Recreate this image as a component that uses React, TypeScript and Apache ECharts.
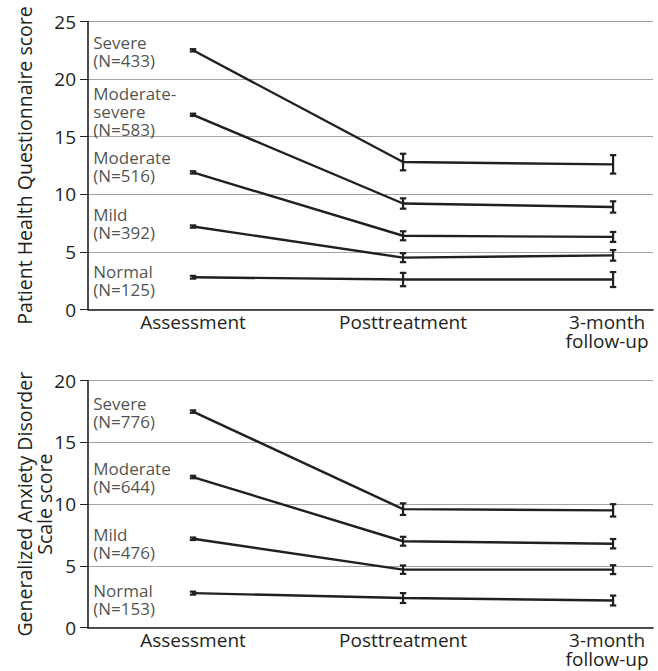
import React, { useEffect, useRef } from "react";
import * as echarts from "echarts";

const timepoints = ["Assessment", "Posttreatment", "3-month\nfollow-up"];

const phqGroups = ["Severe\n(N=433)", "Moderate-\nsevere\n(N=583)", "Moderate\n(N=516)", "Mild\n(N=392)", "Normal\n(N=125)"];
const phqMeans = [
  [22.5, 12.8, 12.6],
  [16.9, 9.2, 8.9],
  [11.9, 6.4, 6.3],
  [7.2, 4.5, 4.7],
  [2.8, 2.6, 2.6],
];
const phqErr = [
  [0.1, 0.72, 0.8],
  [0.1, 0.45, 0.49],
  [0.1, 0.39, 0.43],
  [0.1, 0.39, 0.46],
  [0.12, 0.58, 0.65],
];
const phqLabelY = [22.4, 17.2, 12.45, 7.5, 2.5];

const gadGroups = ["Severe\n(N=776)", "Moderate\n(N=644)", "Mild\n(N=476)", "Normal\n(N=153)"];
const gadMeans = [
  [17.5, 9.6, 9.5],
  [12.2, 7.0, 6.8],
  [7.2, 4.7, 4.7],
  [2.8, 2.4, 2.2],
];
const gadErr = [
  [0.1, 0.47, 0.5],
  [0.1, 0.36, 0.38],
  [0.1, 0.34, 0.36],
  [0.12, 0.4, 0.4],
];
const gadLabelY = [17.4, 12.2, 6.85, 2.3];

const phqTicks = { min: 0, max: 25, interval: 5 };
const gadTicks = { min: 0, max: 20, interval: 5 };

const INK = "#231f20";
const GRID = "#a3a3a3";
const FONT = "Open Sans";
const FS = 19;

function App() {
  const ref = useRef<HTMLDivElement>(null);
  useEffect(() => {
    if (!ref.current) return;
    const chart = echarts.init(ref.current, undefined, { renderer: "svg" });

    const xAxisFor = (gridIndex: number) => ({
      type: "value",
      gridIndex,
      min: -0.5,
      max: 2.19,
      interval: 0.5,
      axisLine: { show: true, onZero: false, lineStyle: { color: INK, width: 1.6 } },
      axisTick: { show: false },
      splitLine: { show: false },
      axisLabel: {
        show: true,
        margin: 3,
        color: INK,
        fontFamily: FONT,
        fontSize: FS,
        lineHeight: 19,
        showMaxLabel: false,
        showMinLabel: false,
        formatter: (v: number) => {
          if (!(Number.isInteger(v) && v >= 0 && v <= 2)) return "";
          if (v === 2) return timepoints[v].split("\n").map((s) => "{r|" + s + "}").join("\n");
          return timepoints[v];
        },
        rich: {
          r: { fontFamily: FONT, fontSize: FS, color: INK, lineHeight: 19, padding: [0, 12, 0, 0] },
        },
      },
    });

    const yAxisFor = (gridIndex: number, t: any, name: string, nameGap: number, moveOverlap: boolean) => ({
      type: "value",
      gridIndex,
      min: t.min,
      max: t.max,
      interval: t.interval,
      name,
      nameLocation: "middle",
      nameGap,
      nameMoveOverlap: moveOverlap,
      nameTextStyle: { color: INK, fontFamily: FONT, fontSize: 19.5, lineHeight: 20 },
      axisLine: { show: true, onZero: false, lineStyle: { color: INK, width: 1.6 } },
      axisTick: { show: true, length: 8, lineStyle: { color: INK, width: 1 } },
      splitLine: { show: true, lineStyle: { color: GRID, width: 1.2 } },
      axisLabel: { color: INK, fontFamily: FONT, fontSize: FS, margin: 12 },
    });

    const errRender = (params: any, api: any) => {
      const x = api.value(0);
      const lo = api.value(1);
      const hi = api.value(2);
      const a = api.coord([x, hi]);
      const b = api.coord([x, lo]);
      const w = 3.2;
      const style = { stroke: INK, lineWidth: 2.2 };
      return {
        type: "group",
        children: [
          { type: "line", shape: { x1: a[0], y1: a[1], x2: b[0], y2: b[1] }, style },
          { type: "line", shape: { x1: a[0] - w, y1: a[1], x2: a[0] + w, y2: a[1] }, style },
          { type: "line", shape: { x1: b[0] - w, y1: b[1], x2: b[0] + w, y2: b[1] }, style },
        ],
      };
    };

    const series: any[] = [];
    const addChart = (gi: number, groups: string[], means: number[][], errs: number[][], labelY: number[]) => {
      means.forEach((row) => {
        series.push({
          type: "line",
          xAxisIndex: gi,
          yAxisIndex: gi,
          data: row.map((v, t) => [t, v]),
          symbol: "none",
          lineStyle: { color: INK, width: 2.4 },
          silent: true,
        });
      });
      const errData: number[][] = [];
      means.forEach((row, g) => row.forEach((v, t) => errData.push([t, v - errs[g][t], v + errs[g][t]])));
      series.push({
        type: "custom",
        xAxisIndex: gi,
        yAxisIndex: gi,
        data: errData,
        encode: { x: 0, y: [1, 2] },
        renderItem: errRender,
        silent: true,
      });
      series.push({
        type: "scatter",
        xAxisIndex: gi,
        yAxisIndex: gi,
        symbolSize: 0,
        data: groups.map((name, g) => ({ value: [-0.475, labelY[g]], name })),
        label: {
          show: true,
          position: "right",
          distance: 0,
          formatter: (p: any) => p.name,
          color: INK,
          fontFamily: FONT,
          fontSize: 17,
          lineHeight: 18,
          align: "left",
          verticalAlign: "middle",
        },
        silent: true,
      });
    };
    addChart(0, phqGroups, phqMeans, phqErr, phqLabelY);
    addChart(1, gadGroups, gadMeans, gadErr, gadLabelY);

    chart.setOption({
      animation: false,
      grid: [
        { left: 88, right: 5, top: 21.5, height: 288, outerBoundsMode: "none", containLabel: false },
        { left: 88, right: 5, top: 380.7, height: 247, outerBoundsMode: "none", containLabel: false },
      ],
      xAxis: [xAxisFor(0), xAxisFor(1)],
      yAxis: [
        yAxisFor(0, phqTicks, "Patient Health Questionnaire score", 54, true),
        yAxisFor(1, gadTicks, "Generalized Anxiety Disorder\nScale score", 34, false),
      ],
      series,
    });
    return () => chart.dispose();
  }, []);
  return (
    <div
      ref={ref}
      style={{ position: "fixed", left: 0, top: 0, width: 658, height: 671, background: "#fff" }}
    />
  );
}

export default App;
